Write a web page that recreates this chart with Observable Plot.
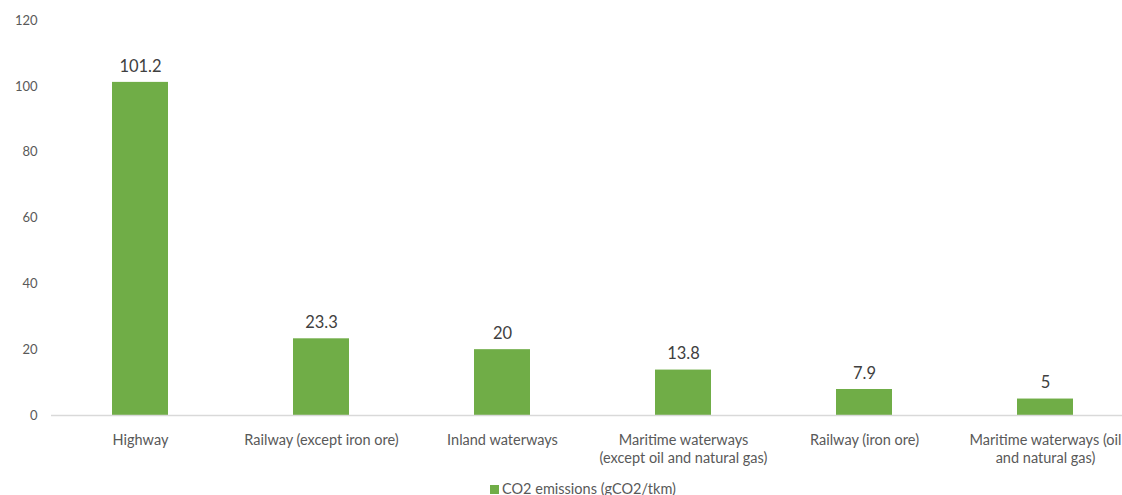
<!DOCTYPE html>
<html>
<head>
<meta charset="utf-8">
<script src="https://cdn.jsdelivr.net/npm/d3@7"></script>
<script src="https://cdn.jsdelivr.net/npm/@observablehq/plot@0.6"></script>
<style>
  html, body { margin: 0; padding: 0; background: #fff; overflow: hidden; }
  #chart { width: 1122px; height: 495px; position: relative; font-family: Lato, "Open Sans", sans-serif; }
  #legend { position: absolute; left: 8px; width: 1150px; top: 480px; text-align: center; font-size: 14.5px; color: #595959; line-height: 18px; }
  #legend .sw { display: inline-block; width: 9px; height: 9px; background: #70ad47; margin-right: 3px; vertical-align: 0px; }
</style>
</head>
<body>
<div id="chart"></div>
<script>
const categories = [
  "Highway",
  "Railway (except iron ore)",
  "Inland waterways",
  "Maritime waterways\n(except oil and natural gas)",
  "Railway (iron ore)",
  "Maritime waterways (oil\nand natural gas)"
];
const values = [101.2, 23.3, 20, 13.8, 7.9, 5];
const valueLabels = ["101.2", "23.3", "20", "13.8", "7.9", "5"];
const yTicks = [0, 20, 40, 60, 80, 100, 120];
const seriesName = "CO2 emissions (gCO2/tkm)";

const data = categories.map((c, i) => ({category: c, value: values[i], label: valueLabels[i]}));

const chart = Plot.plot({
  width: 1122,
  height: 478,
  marginTop: 20,
  marginBottom: 63,
  marginLeft: 51,
  marginRight: 0,
  style: {fontFamily: "Lato, 'Open Sans', sans-serif", background: "#fff"},
  x: {domain: categories, range: [49.5, 1135.5], paddingInner: 0.69, paddingOuter: 0.345, align: 0.5, label: null},
  y: {domain: [0, 120], label: null},
  marks: [
    Plot.barY(data, {x: "category", y: "value", fill: "#70ad47"}),
    Plot.ruleY([0], {stroke: "#d9d9d9", strokeWidth: 1.5}),
    Plot.text(data, {x: "category", y: "value", text: "label", dy: -16, fontSize: 16.5, fill: "#404040"}),
    Plot.axisY(yTicks, {tickSize: 0, tickPadding: 14, fontSize: 13, fill: "#595959", textAnchor: "end"}),
    Plot.axisX({tickSize: 0, tickPadding: 16, fontSize: 14.5, fill: "#595959", lineHeight: 1.28})
  ]
});
document.getElementById("chart").appendChild(chart);
const lg = document.createElement("div");
lg.id = "legend";
lg.innerHTML = '<span class="sw"></span>' + seriesName;
document.getElementById("chart").appendChild(lg);
</script>
</body>
</html>
